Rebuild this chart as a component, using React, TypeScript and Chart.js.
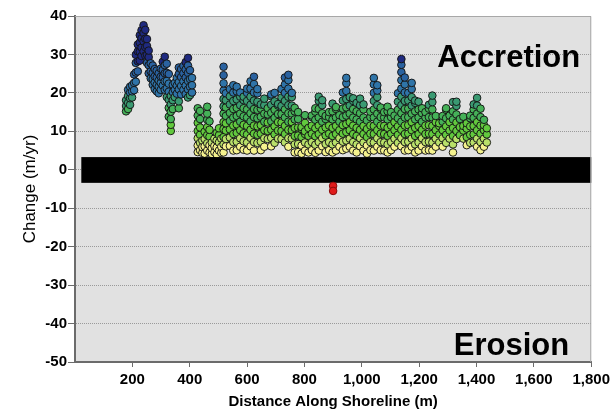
import React, { useEffect, useRef } from "react";
import { Chart, registerables } from "chart.js";

Chart.register(...registerables);

const FONT = 'Arial, "Liberation Sans", sans-serif';

// x ticks / y ticks
const xTicks = [200, 400, 600, 800, 1000, 1200, 1400, 1600, 1800];
const yTicks = [-50, -40, -30, -20, -10, 0, 10, 20, 30, 40];

// Western reach: [distance, rates...]
const westColumns: [number, number[]][] = [
  [178, [15.2, 16.6, 18.1]],
  [185, [15.8, 17.4, 19.2, 20.8]],
  [192, [16.9, 18.6, 20.1, 21.6]],
  [199, [18.8, 20.4, 22.0]],
  [206, [20.7, 22.6, 24.8]],
  [212, [22.9, 25.3, 27.8, 29.9]],
  [219, [25.6, 28.2, 30.8, 32.6]],
  [226, [28.4, 30.7, 33.1, 35.0]],
  [232, [29.6, 31.8, 34.2, 36.3]],
  [239, [30.8, 33.4, 35.6, 37.6]],
  [245, [29.7, 31.9, 34.1, 36.4]],
  [251, [27.8, 29.9, 32.2, 34.0]],
  [257, [25.1, 27.2, 29.3, 31.0]],
  [264, [23.8, 25.6, 27.7]],
  [271, [22.1, 23.6, 25.2, 27.1]],
  [278, [21.0, 22.7, 24.3, 26.2]],
  [285, [20.4, 22.1, 24.0, 25.8]],
  [292, [19.9, 21.6, 23.2, 25.1]],
  [299, [20.8, 22.6, 24.2, 26.3]],
  [306, [21.9, 24.1, 26.0, 28.1]],
  [313, [20.8, 23.0, 25.1, 27.2, 29.4]],
  [320, [18.9, 21.2, 23.1, 25.2, 27.6]],
  [327, [13.8, 16.1, 18.2, 20.3, 22.4, 24.9]],
  [334, [10.1, 11.7, 13.2, 15.1, 17.0, 19.2]],
  [341, [15.8, 18.1, 20.2, 22.1]],
  [348, [18.9, 20.8, 22.6]],
  [355, [19.8, 21.9, 23.9]],
  [362, [16.0, 17.8, 20.9, 22.8, 24.9, 26.6]],
  [370, [19.6, 21.8, 24.1, 26.2]],
  [378, [20.8, 23.0, 25.1, 27.0]],
  [386, [19.7, 21.9, 24.0, 26.1, 28.0]],
  [394, [18.8, 20.9, 23.1, 25.2, 27.1, 29.1]],
  [401, [19.4, 21.6, 23.6, 25.9]],
  [408, [20.1, 22.0, 23.9]],
];

const midColumns: [number, number[]][] = [
  [428, [4.6, 6.3, 8.2, 10.1, 12.2, 14.1, 16.0]],
  [436, [5.1, 7.0, 9.1, 11.0, 13.2, 15.3]],
  [444, [4.4, 5.9, 7.6]],
  [452, [4.2, 6.1, 8.0, 9.9]],
  [461, [5.0, 6.9, 9.0, 11.1, 13.0, 14.6, 16.4]],
  [469, [4.5, 6.4, 8.6, 10.4, 12.6]],
  [477, [4.1, 5.6, 7.1]],
  [486, [4.6, 6.2, 8.1]],
  [494, [4.0, 5.8, 7.6, 9.6]],
  [502, [5.0, 7.1, 9.0, 10.8]],
  [510, [4.4, 6.0, 8.1]],
  [518, [4.5, 6.6, 8.5, 10.6, 12.4, 14.6, 16.5, 18.4, 20.6, 22.5, 24.6, 26.8]],
  [526, [6.1, 8.0, 10.2, 12.1, 14.0, 16.2, 18.1, 19.9]],
];

const eastColumns: [number, number[]][] = [
  [540, [6.2, 8.4, 10.5, 12.7, 14.8, 17.0, 19.1, 21.0]],
  [552, [5.0, 7.2, 9.3, 11.5, 13.6, 15.8, 17.9, 20.1, 22.0]],
  [564, [5.1, 7.3, 9.6, 11.8, 14.0, 16.1, 18.3, 20.4, 21.6]],
  [576, [6.0, 8.2, 10.3, 12.5, 14.6, 16.8, 19.0, 20.1]],
  [588, [5.2, 7.4, 9.5, 11.7, 13.9, 16.0, 18.1, 19.0]],
  [600, [5.0, 7.1, 9.2, 11.4, 13.6, 15.7, 17.9, 20.0, 21.1]],
  [612, [6.1, 8.3, 10.4, 12.6, 14.7, 16.9, 19.0, 21.1, 23.0]],
  [624, [5.0, 7.2, 9.4, 11.5, 13.7, 15.8, 18.0, 20.1, 22.3, 24.2]],
  [636, [7.0, 9.1, 11.3, 13.4, 15.6, 17.7, 19.9, 21.0]],
  [648, [5.1, 7.3, 9.4, 11.6, 13.8, 15.9, 17.0]],
  [660, [6.0, 8.2, 10.3, 12.5, 14.6, 16.8, 18.5]],
  [672, [8.0, 10.1, 12.3, 14.4, 16.0]],
  [684, [6.1, 8.3, 10.4, 12.6, 14.8, 16.9, 19.1, 19.6]],
  [696, [7.0, 9.2, 11.3, 13.5, 15.6, 17.8, 20.0]],
  [708, [8.1, 10.2, 12.4, 14.5, 16.7, 17.1]],
  [720, [8.0, 10.1, 12.3, 14.5, 16.6, 18.8, 21.0]],
  [732, [7.1, 9.3, 11.4, 13.6, 15.7, 17.9, 20.0, 22.2, 24.0]],
  [744, [6.0, 8.2, 10.4, 12.5, 14.7, 16.8, 19.0, 21.1, 23.3, 24.7]],
  [756, [8.1, 10.3, 12.4, 14.6, 16.7, 18.9, 20.0]],
  [766, [4.5, 6.6, 8.8, 10.9, 13.1, 15.2, 16.1]],
  [778, [4.6, 6.7, 8.9, 11.0, 13.2, 15.0]],
  [790, [4.2, 6.3, 8.5, 10.6, 11.1]],
  [802, [5.0, 7.1, 9.3, 10.0, 12.2, 14.2]],
  [814, [4.5, 6.6, 8.8, 10.9]],
  [826, [5.1, 7.2, 9.4, 11.5, 13.7, 14.1]],
  [838, [4.4, 6.5, 8.7, 10.8, 13.0, 15.1, 16.0]],
  [850, [5.0, 7.2, 9.3, 11.5, 13.6, 15.8, 17.9, 19.0]],
  [862, [6.1, 8.2, 10.4, 12.5, 14.7, 16.8, 18.1]],
  [874, [4.6, 6.7, 8.9, 11.0, 13.2, 14.0]],
  [886, [5.1, 7.2, 9.4, 11.5, 13.7, 15.0]],
  [898, [4.5, 6.6, 8.8, 10.9, 13.1, 15.2, 17.2]],
  [910, [5.0, 7.1, 9.3, 11.4, 13.6, 15.8, 16.3]],
  [922, [6.0, 8.2, 10.3, 12.5, 14.2]],
  [934, [5.1, 7.3, 9.4, 11.6, 13.7, 15.9, 18.0, 20.1]],
  [946, [5.5, 7.6, 9.8, 11.9, 14.1, 16.2, 18.4, 20.5, 22.5, 23.9]],
  [958, [6.0, 8.1, 10.3, 12.4, 14.6, 16.7, 18.9]],
  [970, [5.0, 7.2, 9.3, 11.5, 13.6, 15.8, 17.9, 18.6]],
  [982, [4.5, 6.6, 8.8, 10.9, 13.1, 15.2, 17.4]],
  [994, [6.1, 8.2, 10.4, 12.5, 14.7, 16.8, 18.5]],
  [1006, [5.0, 7.1, 9.3, 11.4, 13.6, 15.7, 17.0]],
  [1018, [4.2, 6.3, 8.5, 10.6, 12.8]],
  [1030, [5.1, 7.2, 9.4, 11.5, 13.7, 15.1]],
  [1042, [5.0, 7.1, 9.3, 11.4, 13.6, 15.7, 17.9, 20.0, 22.2, 23.9]],
  [1054, [6.0, 8.2, 10.3, 12.5, 14.6, 16.8, 18.9, 20.6, 22.0]],
  [1066, [5.1, 7.2, 9.4, 11.5, 13.7, 15.8, 16.2]],
  [1078, [5.0, 7.1, 9.3, 11.4, 13.6, 15.0]],
  [1090, [4.5, 6.6, 8.8, 10.9, 13.1, 15.2, 16.4]],
  [1102, [5.1, 7.2, 9.4, 11.5, 13.7, 15.0]],
  [1114, [6.0, 8.1, 10.3, 12.4, 14.1]],
  [1126, [7.0, 9.1, 11.3, 13.4, 15.6, 17.7, 19.9]],
  [1138, [6.1, 8.2, 10.4, 12.5, 14.7, 16.8, 19.0, 21.1, 23.3, 25.4, 27.3, 28.8]],
  [1150, [5.0, 7.2, 9.3, 11.5, 13.6, 15.8, 17.9, 20.1, 22.2, 24.0]],
  [1162, [5.1, 7.3, 9.4, 11.6, 13.7, 15.9, 18.0, 20.0]],
  [1174, [6.0, 8.1, 10.3, 12.4, 14.6, 16.7, 18.9, 21.0, 22.6]],
  [1186, [4.5, 6.6, 8.8, 10.9, 13.1, 15.2, 17.4, 18.0]],
  [1198, [5.0, 7.1, 9.3, 11.4, 13.6, 15.7, 17.7]],
  [1210, [6.1, 8.2, 10.4, 12.5, 14.7, 16.0]],
  [1222, [5.0, 7.2, 9.3, 11.5, 13.6, 15.0]],
  [1234, [5.1, 7.3, 9.4, 11.6, 13.7, 15.9, 16.9]],
  [1246, [5.0, 7.1, 9.3, 11.4, 13.6, 15.7, 17.6, 19.3]],
  [1258, [6.0, 8.1, 10.3, 12.4, 14.0]],
  [1270, [7.1, 9.2, 11.4, 12.1]],
  [1282, [6.0, 8.2, 10.3, 12.5, 14.0]],
  [1294, [7.0, 9.1, 11.3, 13.4, 15.6, 16.0]],
  [1306, [8.1, 10.2, 12.4, 14.1]],
  [1318, [4.5, 6.6, 8.8, 10.9, 13.1, 15.2, 17.6]],
  [1330, [8.0, 10.1, 12.3, 14.4, 16.6, 17.7]],
  [1342, [9.0, 11.1, 13.2]],
  [1354, [8.1, 10.2, 11.4, 13.8]],
  [1366, [6.4, 8.5, 10.7, 12.1]],
  [1378, [7.0, 9.1, 11.3, 13.4, 14.1]],
  [1390, [7.1, 9.2, 11.4, 13.5, 15.7, 17.0]],
  [1402, [6.0, 8.1, 10.3, 12.4, 14.6, 16.7, 18.7]],
  [1414, [5.1, 7.2, 9.4, 11.5, 13.7, 15.9]],
  [1426, [6.0, 8.1, 10.3, 11.6, 13.0]],
  [1436, [7.1, 9.2, 10.8]],
];

// Erosion points
const erosionX = [900, 900];
const erosionY = [-4.2, -5.5];

// Black zero band (no significant change)
const bandX = [22, 1800];
const bandY = [-3.4, 3.3];

function fillFor(y: number): string {
  if (y < 0) return "#e01b1b";
  if (y >= 28) return "#1f2a80";
  if (y >= 24) return "#2a62a0";
  if (y >= 19.5) return "#2f74a8";
  if (y >= 16.5) return "#3a9a72";
  if (y >= 12.5) return "#45b158";
  if (y >= 8.5) return "#62c93e";
  if (y >= 6.5) return "#b9e06a";
  return "#f5f28e";
}

function flatten(cols: [number, number[]][]) {
  const out: { x: number; y: number }[] = [];
  for (const [x, ys] of cols) for (const y of ys) out.push({ x, y });
  return out;
}

const framePlugin = {
  id: "frame",
  beforeDraw(chart: any) {
    const { ctx, chartArea: a } = chart;
    ctx.save();
    ctx.fillStyle = "#ffffff";
    ctx.fillRect(0, 0, chart.width, chart.height);
    ctx.fillStyle = "#e1e1e1";
    ctx.fillRect(a.left, a.top, a.right - a.left, a.bottom - a.top);
    ctx.restore();
  },
  afterDatasetDraw(chart: any, args: any) {
    if (args.index !== 1) return;
    const { ctx } = chart;
    const xs = chart.scales.x;
    const ys = chart.scales.y;
    const x1 = xs.getPixelForValue(bandX[0]);
    const x2 = xs.getPixelForValue(bandX[1]);
    const y1 = ys.getPixelForValue(bandY[1]);
    const y2 = ys.getPixelForValue(bandY[0]);
    ctx.save();
    ctx.fillStyle = "#000000";
    ctx.fillRect(x1, y1, x2 - x1, y2 - y1);
    ctx.restore();
  },
  afterDraw(chart: any) {
    const { ctx, chartArea: a } = chart;
    ctx.save();
    ctx.strokeStyle = "#a8a8a8";
    ctx.lineWidth = 1;
    ctx.beginPath();
    ctx.moveTo(a.left, a.top + 0.5);
    ctx.lineTo(a.right - 0.5, a.top + 0.5);
    ctx.lineTo(a.right - 0.5, a.bottom);
    ctx.stroke();
    ctx.fillStyle = "#000000";
    ctx.font = `bold 31px ${FONT}`;
    ctx.textAlign = "right";
    ctx.textBaseline = "alphabetic";
    ctx.fillText("Accretion", a.right - 11, a.top + 51);
    ctx.fillText("Erosion", a.right - 22, a.bottom - 7);
    ctx.restore();
  },
};

export default function App() {
  const ref = useRef<HTMLCanvasElement | null>(null);

  useEffect(() => {
    document.body.style.margin = "0";
    if (!ref.current) return;
    const accretion = [
      ...flatten(westColumns),
      ...flatten(midColumns),
      ...flatten(eastColumns),
    ];
    const erosion = erosionX.map((x, i) => ({ x, y: erosionY[i] }));
    const chart = new Chart(ref.current, {
      type: "scatter",
      data: {
        datasets: [
          {
            label: "Erosion",
            data: erosion,
            pointRadius: 3.8,
            pointBackgroundColor: "#e01b1b",
            pointBorderColor: "#8a0b0b",
            pointBorderWidth: 1,
          },
          {
            label: "Accretion",
            data: accretion,
            pointRadius: 3.8,
            pointBackgroundColor: (c: any) => fillFor(c.raw ? c.raw.y : 0),
            pointBorderColor: "rgba(20,20,20,0.95)",
            pointBorderWidth: 1,
          },
        ],
      },
      options: {
        animation: false,
        responsive: false,
        devicePixelRatio: 1,
        layout: { padding: { left: 0, right: 22, top: 16, bottom: 0 } },
        plugins: {
          legend: { display: false },
          tooltip: { enabled: false },
        },
        scales: {
          x: {
            type: "linear",
            min: 0,
            max: 1800,
            afterBuildTicks: (s: any) => {
              s.ticks = xTicks.map((v) => ({ value: v }));
            },
            afterFit: (s: any) => {
              s.height = 49;
            },
            ticks: {
              font: { family: FONT, size: 15, weight: "bold" },
              color: "#000",
              padding: 4,
              maxRotation: 0,
              autoSkip: false,
              callback: (v: any) => Number(v).toLocaleString("en-US"),
            },
            grid: {
              drawOnChartArea: false,
              drawTicks: true,
              tickLength: 5,
              tickColor: "#6b6b6b",
              tickWidth: 1,
            },
            border: { display: true, color: "#6b6b6b", width: 2 },
            title: {
              display: true,
              text: "Distance Along Shoreline (m)",
              font: { family: FONT, size: 15, weight: "bold" },
              color: "#000",
              padding: { top: 0, bottom: 0 },
            },
          },
          y: {
            type: "linear",
            min: -50,
            max: 40,
            afterBuildTicks: (s: any) => {
              s.ticks = yTicks.map((v) => ({ value: v }));
            },
            afterFit: (s: any) => {
              s.width = 75;
            },
            ticks: {
              font: { family: FONT, size: 15, weight: "bold" },
              color: "#000",
              padding: 1,
              autoSkip: false,
            },
            grid: {
              color: "#9a9a9a",
              lineWidth: 1,
              drawTicks: true,
              tickLength: 7,
              tickColor: "#6b6b6b",
              tickWidth: 1,
              tickBorderDash: [],
            },
            border: { display: true, color: "#6b6b6b", width: 2, dash: [1, 1] },
            title: {
              display: true,
              text: "Change (m/yr)",
              font: { family: FONT, size: 17 },
              color: "#000",
              padding: { top: 20, bottom: 0 },
            },
          },
        },
      },
      plugins: [framePlugin],
    } as any);
    return () => chart.destroy();
  }, []);

  return (
    <div style={{ position: "absolute", left: 0, top: 0, width: 614, height: 411 }}>
      <canvas ref={ref} width={614} height={411} style={{ display: "block" }} />
    </div>
  );
}
